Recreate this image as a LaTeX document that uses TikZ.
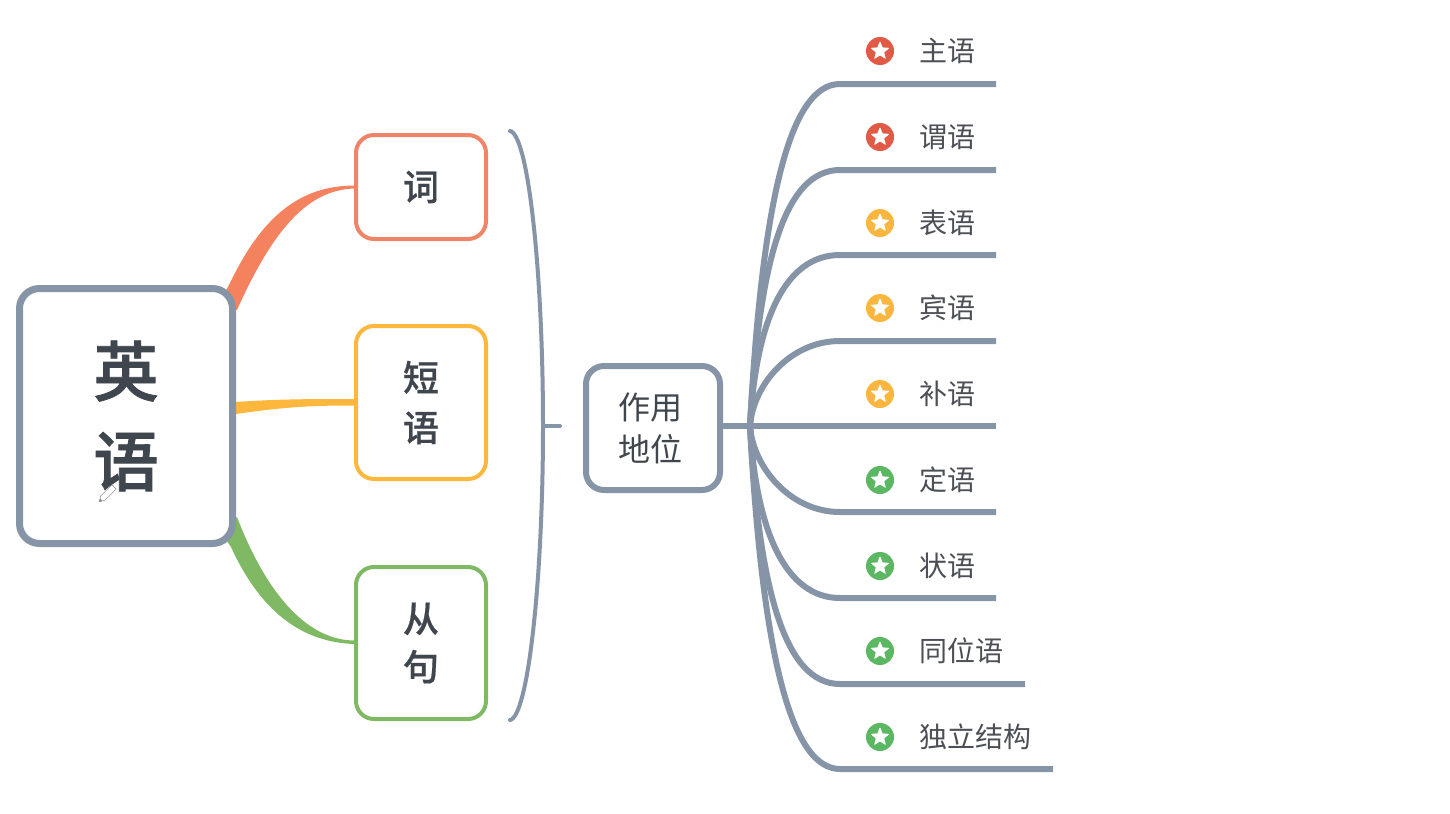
\documentclass[tikz,border=0pt]{standalone}
\usepackage{fontspec}
\setmainfont{Noto Sans CJK SC}
\newfontfamily\cjkmed[FakeBold=0.5]{Noto Sans CJK SC Medium}
\newfontfamily\cjkroot[FakeBold=1.2]{Noto Sans CJK SC Medium}
\usetikzlibrary{shapes.geometric,backgrounds}
\definecolor{slateline}{HTML}{8694A8}
\definecolor{inkdark}{HTML}{40464E}
\definecolor{inkleaf}{HTML}{4C5056}
\definecolor{redlink}{HTML}{F5825F}
\definecolor{redbox}{HTML}{F08468}
\definecolor{yellowlink}{HTML}{FDB73D}
\definecolor{greenlink}{HTML}{80B963}
\definecolor{starred}{HTML}{E05A45}
\definecolor{staryellow}{HTML}{FBB63F}
\definecolor{stargreen}{HTML}{5BB762}
\tikzset{
  x=0.75pt,y=-0.75pt,
  mapbox/.style n args={4}{draw=#1,line width=#2*0.75pt,rounded corners=#3*0.75pt,fill=white,
     inner sep=0pt,align=center,text=inkdark,font=#4},
  dims/.style 2 args={minimum width=#1*0.75pt,minimum height=#2*0.75pt},
  branch/.style={draw=slateline,line width=4.5pt,line cap=butt},
  badge/.style={circle,fill=#1,inner sep=0pt,minimum size=28*0.75pt},
  badgestar/.style={star,star points=5,star point ratio=2.3,fill=white,draw=white,line width=0.6pt,line join=round,inner sep=0pt,minimum size=18*0.75pt},
  leaflabel/.style={anchor=west,inner sep=0pt,text=inkleaf,font=\fontsize{21}{24}\selectfont},
}
\begin{document}
\begin{tikzpicture}
\useasboundingbox (0,0) rectangle (1450,814);

% boxes
\node[mapbox={slateline}{7}{20}{\fontsize{49}{67.5}\selectfont\cjkroot},dims={213}{255}] (root) at (126,416) {\raisebox{2.2pt}{英}\\\raisebox{2.2pt}{语}};
\node[mapbox={redbox}{4}{18}{\fontsize{27}{37.5}\selectfont\cjkmed},dims={130}{104}] (word) at (421,187) {词};
\node[mapbox={yellowlink}{4}{18}{\fontsize{27}{37.5}\selectfont\cjkmed},dims={130}{153}] (phrase) at (421,402.5) {\raisebox{1.5pt}{短}\\\raisebox{1.5pt}{语}};
\node[mapbox={greenlink}{4}{18}{\fontsize{27}{36}\selectfont\cjkmed},dims={130}{152}] (clause) at (421,643) {\raisebox{1pt}{从}\\\raisebox{1pt}{句}};
\node[mapbox={slateline}{6}{18}{\fontsize{24}{31.5}\selectfont},dims={134}{124}] (role) at (653,428) {\kern-4.5pt\raisebox{1.5pt}{作用}\\\kern-4.5pt\raisebox{1.5pt}{地位}};

% tapered links
\begin{scope}[on background layer]
\fill[white] (0,0) rectangle (1450,814);
\fill[redlink] ([shift={(-6,-2)}]root.north east)
   .. controls (265,210) and (305,186) .. ([shift={(0,-1.5)}]word.west)
   -- ([shift={(0,1.5)}]word.west)
   .. controls (310,190) and (275,225) .. ([shift={(1,25)}]root.north east)
   -- ([shift={(-15,15)}]root.north east) -- cycle;
\fill[yellowlink] ([shift={(0,-14)}]root.east)
   .. controls (280,399) and (310,399) .. ([shift={(0,-3.5)}]phrase.west)
   -- ([shift={(0,3)}]phrase.west)
   .. controls (320,405.5) and (290,406) .. ([shift={(0,-2)}]root.east) -- cycle;
\fill[greenlink] ([shift={(1,-30)}]root.south east)
   .. controls (265,590) and (305,640) .. ([shift={(0,-2.5)}]clause.west)
   -- ([shift={(0,1)}]clause.west)
   .. controls (300,642) and (260,610) .. ([shift={(-5,0)}]root.south east)
   -- ([shift={(-15,-15)}]root.south east) -- cycle;
\end{scope}

% bracket
\coordinate (brtop) at (510,131);
\coordinate (brbot) at (510,720);
\coordinate (brmid) at (543,426);
\coordinate (brtick) at (560,426);
\draw[slateline,line width=3pt,line cap=round] (brtop)
   .. controls (528,134) and (543,270) .. (brmid)
   .. controls (543,580) and (528,717) .. (brbot);
\draw[slateline,line width=3pt,line cap=round] (brmid) -- (brtick);

% hub and branches
\coordinate (hub) at (750,426);
\draw[branch] ([shift={(0,-2)}]role.east) -- (hub);
\foreach \i/\yy/\ex/\ax/\ay/\bx/\by in {
  1/84/996/762/200/790/84,
  2/170/996/759/260/785/170,
  3/255/996/756/320/785/255,
  4/341/996/753/385/790/341,
  6/512/996/753/467/790/512,
  7/598/996/756/530/785/598,
  8/684/1025/759/590/785/684,
  9/769/1053/762/650/790/769}{
  \coordinate (bend\i) at (840,\yy);
  \coordinate (tip\i) at (\ex,\yy);
  \draw[branch] (hub) .. controls (\ax,\ay) and (\bx,\by) .. (bend\i) -- (tip\i);
}
\coordinate (tip5) at (996,426);
\draw[branch] (hub) -- (tip5);

% badges and labels
\foreach \i/\yy/\col/\txt in {
  1/51/starred/主语,
  2/137/starred/谓语,
  3/223/staryellow/表语,
  4/308/staryellow/宾语,
  5/394/staryellow/补语,
  6/480/stargreen/定语,
  7/566/stargreen/状语,
  8/651/stargreen/同位语,
  9/737/stargreen/独立结构}{
  \node[badge=\col] (badge\i) at (880,\yy) {};
  \node[badgestar] (star\i) at (880,\yy) {};
  \node[leaflabel] (label\i) at (919,\yy) {\txt};
}

% pencil cursor
\begin{scope}[shift={(107,494)},rotate=45]
\draw[gray!80,line width=0.5pt,fill=white,line join=round]
  (-11,0) -- (-6,-3) -- (10,-3) -- (10,3) -- (-6,3) -- cycle;
\fill[gray!90] (-11,0) -- (-8,-1.5) -- (-8,1.5) -- cycle;
\end{scope}
\end{tikzpicture}
\end{document}
